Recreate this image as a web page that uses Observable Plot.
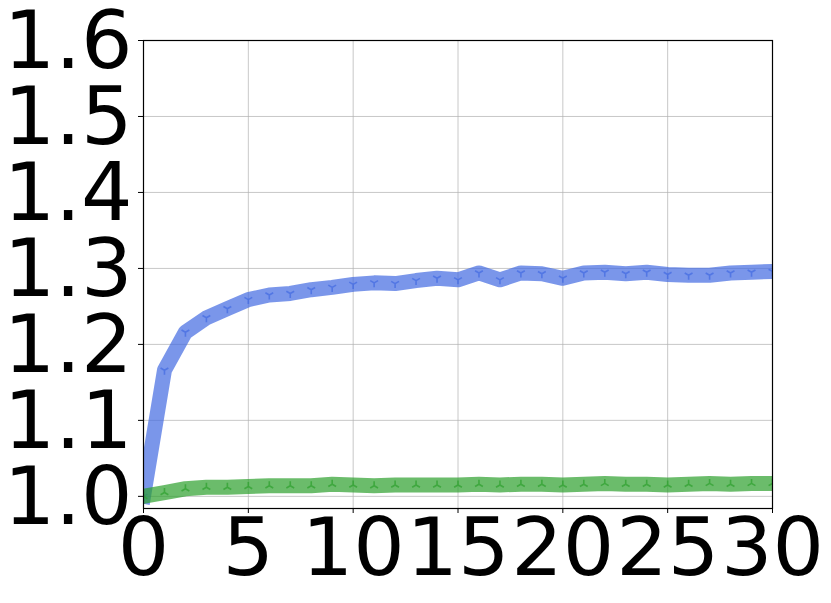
<!DOCTYPE html>
<html>
<head>
<meta charset="utf-8">
<script src="https://cdn.jsdelivr.net/npm/d3@7"></script>
<script src="https://cdn.jsdelivr.net/npm/@observablehq/plot@0.6"></script>
<style>
  html, body { margin: 0; padding: 0; background: #fff; }
  #chart svg { display: block; background: #fff; }
</style>
</head>
<body>
<div id="chart"></div>
<script>
const steps = d3.range(0, 31);
const blueSeries = [1.000, 1.166, 1.216, 1.235, 1.247, 1.259, 1.265, 1.267, 1.272, 1.275,
  1.279, 1.281, 1.280, 1.284, 1.287, 1.285, 1.294, 1.285, 1.294, 1.293,
  1.287, 1.294, 1.295, 1.293, 1.295, 1.292, 1.291, 1.291, 1.294, 1.295, 1.296];
const greenSeries = [1.000, 1.005, 1.010, 1.012, 1.012, 1.013, 1.014, 1.014, 1.014, 1.016,
  1.015, 1.014, 1.015, 1.015, 1.015, 1.015, 1.016, 1.015, 1.016, 1.016,
  1.015, 1.016, 1.017, 1.016, 1.016, 1.015, 1.016, 1.017, 1.016, 1.017, 1.017];
const xTicks = [0, 5, 10, 15, 20, 25, 30];
const yTicks = [1.0, 1.1, 1.2, 1.3, 1.4, 1.5, 1.6];

const blueData = steps.map((s, i) => ({x: s, y: blueSeries[i]}));
const greenData = steps.map((s, i) => ({x: s, y: greenSeries[i]}));

const k = Math.sqrt(3) / 2;
const triDown = {
  draw(ctx, size) {
    const r = Math.sqrt(size / Math.PI);
    ctx.moveTo(0, 0); ctx.lineTo(0, r);
    ctx.moveTo(0, 0); ctx.lineTo(-k * r, -0.5 * r);
    ctx.moveTo(0, 0); ctx.lineTo(k * r, -0.5 * r);
  }
};
const triUp = {
  draw(ctx, size) {
    const r = Math.sqrt(size / Math.PI);
    ctx.moveTo(0, 0); ctx.lineTo(0, -r);
    ctx.moveTo(0, 0); ctx.lineTo(-k * r, 0.5 * r);
    ctx.moveTo(0, 0); ctx.lineTo(k * r, 0.5 * r);
  }
};

const blue = "#4169e1";
const green = "#2ca02c";

const chart = Plot.plot({
  width: 831,
  height: 603,
  marginLeft: 143,
  marginRight: 59,
  marginTop: 40,
  marginBottom: 95,
  style: {fontFamily: "'DejaVu Sans', sans-serif", background: "#fff", color: "#000"},
  x: {domain: [0, 30]},
  y: {domain: [0.984, 1.6]},
  marks: [
    Plot.gridX(xTicks, {stroke: "#b0b0b0", strokeOpacity: 0.7, strokeWidth: 1}),
    Plot.gridY(yTicks, {stroke: "#b0b0b0", strokeOpacity: 0.7, strokeWidth: 1}),
    Plot.line(blueData, {x: "x", y: "y", stroke: blue, strokeOpacity: 0.7, strokeWidth: 15,
      strokeLinejoin: "round", strokeLinecap: "square", clip: true}),
    Plot.dot(blueData, {x: "x", y: "y", symbol: triDown, r: 4.5, stroke: blue, strokeOpacity: 0.7,
      strokeWidth: 1.6, fill: "none", clip: true}),
    Plot.line(greenData, {x: "x", y: "y", stroke: green, strokeOpacity: 0.7, strokeWidth: 15,
      strokeLinejoin: "round", strokeLinecap: "square", clip: true}),
    Plot.dot(greenData, {x: "x", y: "y", symbol: triUp, r: 4.5, stroke: green, strokeOpacity: 0.7,
      strokeWidth: 1.6, fill: "none", clip: true}),
    Plot.frame({stroke: "#000", strokeWidth: 1.2}),
    Plot.axisX(xTicks, {fontSize: 81, tickSize: 5, tickPadding: 4, label: null, stroke: "#000",
      fill: "#000", tickFormat: d3.format("d")}),
    Plot.axisY(yTicks, {tickSize: 5, label: null, stroke: "#000", tickFormat: () => ""}),
    Plot.axisY(yTicks, {fontSize: 81, tickSize: 0, tickPadding: 11, dy: 2, label: null,
      fill: "#000", tickFormat: d3.format(".1f")})
  ]
});
document.getElementById("chart").appendChild(chart);
</script>
</body>
</html>
